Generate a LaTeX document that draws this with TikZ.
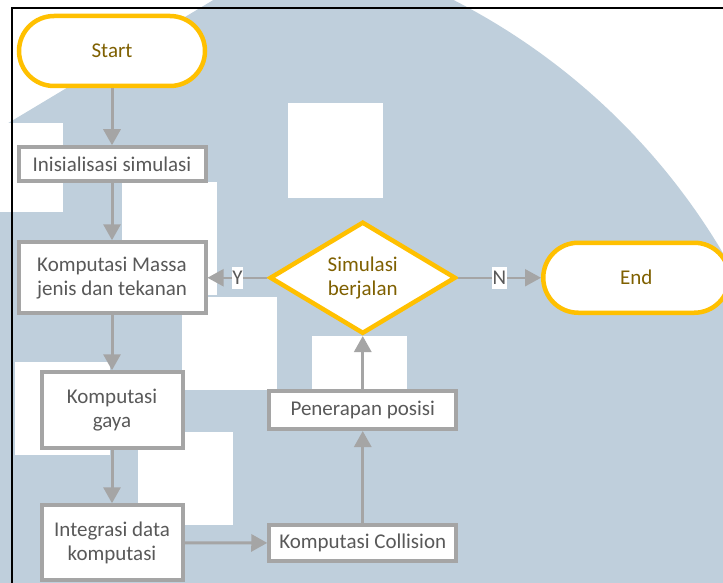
\documentclass[tikz,border=0pt]{standalone}
\usepackage{fontspec}
\setmainfont{Carlito}
\usetikzlibrary{positioning,arrows.meta,shapes.geometric}
\definecolor{latar}{HTML}{BFCFDC}
\definecolor{kuning}{HTML}{FFC000}
\definecolor{emas}{HTML}{7F6000}
\definecolor{abu}{HTML}{A5A5A5}
\definecolor{teks}{HTML}{595959}
\tikzset{
  kotak/.style={draw=abu,line width=4pt,fill=white,align=center,text=teks,inner sep=2pt},
  terminal/.style={draw=kuning,line width=4.5pt,fill=white,rounded corners=35pt,text=emas,minimum width=186pt,minimum height=70pt},
  keputusan/.style={diamond,draw=kuning,line width=4.5pt,fill=white,align=center,text=emas,inner sep=0pt,aspect=1.64,minimum width=186pt,minimum height=112pt},
  panah/.style={-{Triangle[length=16pt,width=17pt]},line width=3pt,draw=abu},
  ket/.style={fill=white,text=teks,inner sep=0.5pt,minimum height=22pt},
}

\begin{document}
\begin{tikzpicture}[x=1pt,y=-1pt,node distance=57pt and 60pt,font=\fontsize{21}{24}\selectfont]
  \useasboundingbox (0,0) rectangle (723,583);
  % latar belakang
  \begin{scope}
    \clip (-100,188) -- (500,-172) -- (1000,-172) -- (1000,800) -- (-100,800) -- cycle;
    \fill[latar] (153,590) circle[radius=662pt];
  \end{scope}
  \foreach \x/\y/\h in {-32/123/89,122/182/113,288/103/95,182/297/93,15/362/93,138/432/93,312/336/94}
    \fill[white] (\x,\y) rectangle ++(95,\h);
  \draw[line width=2pt] (723,8) -- (12,8) -- (12,583);

  \node[terminal] (start) at (112,51) {Start};
  \node[kotak,minimum width=187pt,minimum height=34pt,below=57pt of start] (init) {Inisialisasi simulasi};
  \node[kotak,minimum width=187pt,minimum height=71pt,below=57pt of init] (massa) {Komputasi Massa\\jenis dan tekanan};
  \node[kotak,minimum width=141pt,minimum height=76pt,below=55pt of massa] (gaya) {Komputasi\\gaya};
  \node[kotak,minimum width=141pt,minimum height=75pt,below=53pt of gaya] (integrasi) {Integrasi data\\komputasi};
  \node[keputusan,right=60pt of massa] (cek) {Simulasi\\berjalan};
  \node[terminal,right=83pt of cek] (end) {End};
  \node[kotak,minimum width=187pt,minimum height=38pt,below=53pt of cek] (posisi) {Penerapan posisi};
  \node[kotak,minimum width=187pt,minimum height=36pt,below=92pt of posisi] (collision) {Komputasi Collision};

  \draw[panah] (start) -- (init);
  \draw[panah] (init) -- (massa);
  \draw[panah] (massa) -- (gaya);
  \draw[panah] (gaya) -- (integrasi);
  \draw[panah] (integrasi) -- (collision);
  \draw[panah] (collision) -- (posisi);
  \draw[panah] (posisi) -- (cek);
  \draw[panah,line width=2pt] (cek) -- node[ket]{Y} (massa);
  \draw[panah,line width=2pt] (cek) -- node[ket]{N} (end);
\end{tikzpicture}
\end{document}
